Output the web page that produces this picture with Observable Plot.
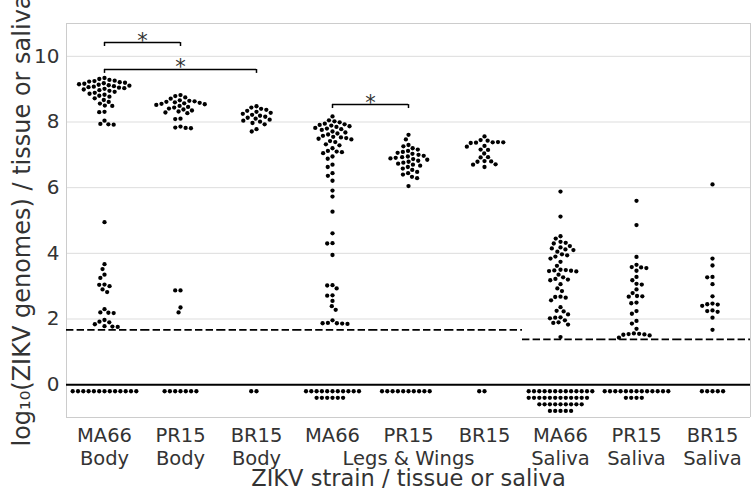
<!DOCTYPE html>
<html><head><meta charset="utf-8">
<script src="https://cdn.jsdelivr.net/npm/d3@7"></script>
<script src="https://cdn.jsdelivr.net/npm/@observablehq/plot@0.6"></script>
<style>body{margin:0;background:#fff} #chart svg{display:block}</style>
</head><body><div id="chart"></div>
<script>
const categories = ["MA66 Body","PR15 Body","BR15 Body","MA66 Legs","PR15 Legs","BR15 Legs","MA66 Saliva","PR15 Saliva","BR15 Saliva"];
const strainLabels = ["MA66","PR15","BR15","MA66","PR15","BR15","MA66","PR15","BR15"];
const tissueLabels = ["Body","Body","Body","","Legs & Wings","","Saliva","Saliva","Saliva"];
const yTicks = [0,2,4,6,8,10];

const ma66Body = [9.34,9.31,9.28,
  9.26,9.245,9.23,9.21,9.195,9.18,
  9.165,9.15,9.135,9.12,9.105,9.09,9.075,9.06,9.045,9.03,
  9.01,8.99,8.97,8.95,8.92,8.89,8.86,8.83,8.80,8.77,8.72,8.67,8.61,8.56,
  8.50,8.49,8.31,8.30,8.04,7.94,7.93,7.92,
  4.95,3.67,3.52,3.35,3.25,3.05,3.04,3.0,2.9,2.82,2.3,2.2,2.19,2.18,1.97,1.92,1.9,1.84,1.78,1.77,1.76];
const pr15Body = [8.82,8.79,8.75,8.71,
  8.66,8.645,8.63,8.615,8.60,8.585,8.57,8.555,8.54,
  8.52,8.49,8.46,8.44,8.41,8.38,8.35,8.32,8.29,8.27,
  8.10,8.09,7.86,7.83,7.82,7.81,
  2.87,2.87,2.35,2.2];
const br15Body = [8.48,8.44,8.40,8.37,8.34,8.31,8.28,8.25,8.22,8.19,8.16,8.13,8.10,8.07,8.04,8.01,7.97,7.93,7.78,7.71];
const ma66Legs = [8.17,8.05,8.02,7.99,7.95,7.93,7.91,7.89,7.87,7.85,
  7.82,7.80,7.78,7.76,7.71,7.68,7.65,7.62,7.58,7.55,7.53,7.51,7.49,7.47,
  7.42,7.39,7.32,7.29,7.2,7.12,7.10,7.08,7.05,6.95,6.88,6.7,6.63,6.44,6.36,6.21,
  5.91,5.73,5.27,4.61,4.31,4.30,3.95,3.03,3.02,2.93,2.72,2.71,2.55,2.39,2.28,1.96,1.88,1.87,1.86,1.87,1.85];
const pr15Legs = [7.61,7.47,7.30,7.26,7.20,7.16,7.12,7.09,7.06,7.03,7.00,6.97,6.95,6.93,6.91,
  6.89,6.87,6.85,6.82,6.79,6.76,6.73,6.70,6.67,6.63,6.58,6.54,6.48,6.44,6.40,6.33,6.29,6.05];
const br15Legs = [7.56,7.45,7.43,7.38,7.37,7.39,7.36,7.38,7.27,7.25,7.16,7.15,7.04,6.93,6.92,6.81,6.80,6.79,6.71,6.70,6.63];
const ma66Saliva = [5.88,5.12,4.52,4.45,4.35,4.32,4.3,4.22,4.18,4.15,4.12,4.1,4.05,3.97,3.94,3.9,3.84,3.74,3.62,3.5,3.49,3.48,3.47,3.46,3.45,3.35,3.27,3.22,3.2,3.18,3.06,2.93,2.85,2.68,2.67,2.65,2.57,2.36,2.25,2.23,2.14,2.05,2.04,2.02,1.96,1.9,1.88,1.83,1.45];
const pr15Saliva = [5.6,4.86,3.89,3.65,3.58,3.57,3.55,3.47,3.28,3.18,3.07,3.05,2.9,2.79,2.7,2.69,2.68,2.5,2.48,2.24,2.16,1.94,1.86,1.7,1.56,1.55,1.54,1.53,1.52,1.5,1.43];
const br15Saliva = [6.1,3.84,3.63,3.28,3.27,3.06,2.69,2.47,2.45,2.44,2.4,2.26,2.24,2.22,2.04,1.67];
const detectedSeries = [ma66Body,pr15Body,br15Body,ma66Legs,pr15Legs,br15Legs,ma66Saliva,pr15Saliva,br15Saliva];

// undetected samples, drawn in rows below zero
const belowRowCounts = [[13],[7],[2],[11,6],[10],[2],[13,12,9,5],[13,4],[5]];
const belowRowY = [-0.2,-0.4,-0.6,-0.8];

const detectionLimits = [1.67,1.67,1.67,1.67,1.67,1.67,1.38,1.38,1.38];
const comparisons = [
  {from: 0, to: 1, y: 10.42},
  {from: 0, to: 2, y: 9.6},
  {from: 3, to: 4, y: 8.53}
];
const yLabel = "log\u2081\u2080(ZIKV genomes) / tissue or saliva";
const xLabel = "ZIKV strain / tissue or saliva";

const points = [];
categories.forEach((cat, i) => {
  detectedSeries[i].forEach(v => points.push({cat, v}));
  belowRowCounts[i].forEach((n, r) => { for (let k = 0; k < n; ++k) points.push({cat, v: belowRowY[r]}); });
});

const textColor = "#333";
const chart = Plot.plot({
  width: 754, height: 491,
  marginLeft: 64, marginRight: 2, marginTop: 23, marginBottom: 74,
  fx: {domain: categories, padding: 0, axis: null},
  x: {domain: [-0.5, 0.5], axis: null},
  y: {domain: [-1, 11], axis: null},
  style: {fontFamily: "DejaVu Sans", fontSize: "20px", color: textColor, background: "white"},
  marks: [
    Plot.gridY(yTicks, {stroke: "#dddddd", strokeOpacity: 1, strokeWidth: 1}),
    Plot.ruleY([-1, 11], {stroke: "#cccccc", strokeWidth: 1}),
    Plot.ruleX([-0.5], {fx: () => categories[0], stroke: "#cccccc", strokeWidth: 1}),
    Plot.ruleX([0.5], {fx: () => categories[8], stroke: "#cccccc", strokeWidth: 1}),
    Plot.axisY(yTicks, {tickSize: 0, tickPadding: 7, fontSize: 20, label: null, fill: textColor}),
    Plot.ruleY([0], {stroke: "black", strokeWidth: 2}),
    Plot.ruleY(categories, {fx: d => d, y: (d, i) => detectionLimits[i], stroke: "black", strokeWidth: 1.8, strokeDasharray: "7.4,3.2"}),
    Plot.dot(points, Plot.dodgeX("middle", {fx: "cat", y: "v", r: 2.15, padding: 0.35, fill: "black", stroke: "none"})),
    Plot.ruleY(comparisons, {fx: d => categories[d.from], x1: 0, x2: d => d.to - d.from, y: "y", stroke: "black", strokeWidth: 1.5}),
    Plot.ruleX(comparisons.flatMap(d => [{...d, x: 0}, {...d, x: d.to - d.from}]), {fx: d => categories[d.from], x: "x", y1: d => d.y - 0.12, y2: "y", stroke: "black", strokeWidth: 1.5}),
    Plot.text(comparisons, {fx: d => categories[d.from], x: d => (d.to - d.from) / 2, y: "y", text: () => "*", lineAnchor: "bottom", dy: 5, fontSize: 21, fill: textColor}),
    Plot.text(categories, {fx: d => d, text: (d, i) => strainLabels[i], frameAnchor: "bottom", dy: 24, fontSize: 19.5, fill: textColor}),
    Plot.text(categories, {fx: d => d, text: (d, i) => tissueLabels[i], frameAnchor: "bottom", dy: 47, fontSize: 19.5, fill: textColor}),
    Plot.text([xLabel], {fx: () => categories[4], text: d => d, frameAnchor: "bottom", dy: 68, fontSize: 22.5, fill: textColor}),
    Plot.text([yLabel], {fx: () => categories[0], text: d => d, frameAnchor: "left", textAnchor: "middle", dx: -44, rotate: -90, fontSize: 24, fill: textColor})
  ]
});
document.getElementById("chart").appendChild(chart);
</script>
</body></html>
